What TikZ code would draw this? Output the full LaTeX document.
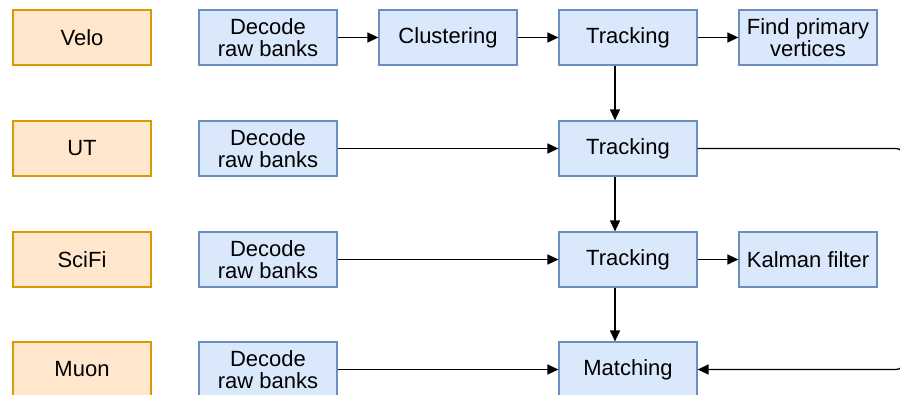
\documentclass[tikz,border=0pt]{standalone}
\usepackage{fontspec}
\setmainfont{Liberation Sans}
\usetikzlibrary{arrows.meta}
\definecolor{detfill}{HTML}{FFE6CC}
\definecolor{detline}{HTML}{D79B00}
\definecolor{algfill}{HTML}{DAE8FC}
\definecolor{algline}{HTML}{6C8EBF}
\tikzset{
  box/.style={minimum width=138pt, minimum height=55pt, inner sep=0pt, line width=1.2pt,
    align=center, font=\fontsize{22}{22}\selectfont},
  det/.style={box, draw=detline, fill=detfill},
  alg/.style={box, draw=algline, fill=algfill},
  flow/.style={line width=1.3pt, -{Triangle[length=11pt,width=10pt]}},
}
\begin{document}
\begin{tikzpicture}[x=1pt,y=-1pt]
  \useasboundingbox (0,0) rectangle (900,394);
  % detector columns
  \node[det] (velo)  at (82,37.5)  {Velo};
  \node[det] (ut)    at (82,148.5) {UT};
  \node[det] (scifi) at (82,259.5) {SciFi};
  \node[det] (muon)  at (82,369.5) {Muon};
  % decoding
  \node[alg] (dvelo)  at (268,37.5)  {Decode\\raw banks};
  \node[alg] (dut)    at (268,148.5) {Decode\\raw banks};
  \node[alg] (dscifi) at (268,259.5) {Decode\\raw banks};
  \node[alg] (dmuon)  at (268,369.5) {Decode\\raw banks};
  % reconstruction steps
  \node[alg] (clus) at (448,37.5) {Clustering};
  \node[alg] (tvelo)  at (628,37.5)  {Tracking};
  \node[alg] (tut)    at (628,148.5) {Tracking};
  \node[alg] (tscifi) at (628,259.5) {Tracking};
  \node[alg] (match)  at (628,369.5) {Matching};
  \node[alg] (pv)     at (808,37.5)  {Find primary\\vertices};
  \node[alg] (kalman) at (808,259.5) {Kalman filter};
  \coordinate (rtop) at (904,148.5);
  \coordinate (rbot) at (904,369.5);
  % connectors
  \draw[flow] (dvelo) -- (clus);
  \draw[flow] (clus) -- (tvelo);
  \draw[flow] (tvelo) -- (pv);
  \draw[flow] (dut) -- (tut);
  \draw[flow] (dscifi) -- (tscifi);
  \draw[flow] (dmuon) -- (match);
  \draw[flow] (tscifi) -- (kalman);
  \draw[flow] ([xshift=-13pt]tvelo.south) -- ([xshift=-13pt]tut.north);
  \draw[flow] ([xshift=-13pt]tut.south) -- ([xshift=-13pt]tscifi.north);
  \draw[flow] ([xshift=-13pt]tscifi.south) -- ([xshift=-13pt]match.north);
  \draw[flow, rounded corners=8pt] (tut.east) -- (rtop) -- (rbot) -- (match.east);
\end{tikzpicture}
\end{document}
